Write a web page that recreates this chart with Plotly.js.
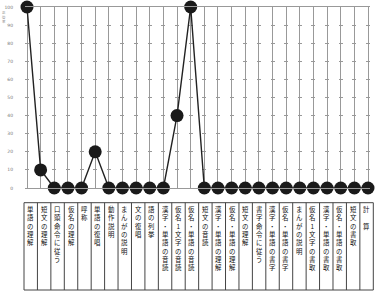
<!DOCTYPE html>
<html>
<head>
<meta charset="utf-8">
<script src="https://cdn.plot.ly/plotly-3.0.1.min.js"></script>
<style>html,body{margin:0;padding:0;background:#fff;}#chart{width:378px;height:304px;}</style>
</head>
<body>
<div id="chart"></div>
<script>
const categories = [
  "単語の理解", "短文の理解", "口頭命令に従う", "仮名の理解", "呼称",
  "単語の復唱", "動作説明", "まんがの説明", "文の復唱", "語の列挙",
  "漢字・単語の音読", "仮名1文字の音読", "仮名・単語の音読", "短文の音読",
  "漢字・単語の理解", "仮名・単語の理解", "短文の理解", "書字命令に従う",
  "漢字・単語の書字", "仮名・単語の書字", "まんがの説明", "仮名1文字の書取",
  "漢字・単語の書取", "仮名・単語の書取", "短文の書取", "計 算"
];
const values = [100, 10, 0, 0, 0, 20, 0, 0, 0, 0, 0, 40, 100, 0, 0, 0, 0, 0, 0, 0, 0, 0, 0, 0, 0, 0];
const yTicks = [0, 10, 20, 30, 40, 50, 60, 70, 80, 90, 100];
const yTitle = "正答率";

const W = 378, H = 304;
const mL = 25, mR = 8, mT = 7, mB = 116;
const plotW = W - mL - mR, plotH = H - mT - mB;
const n = categories.length;
const edgePx = 2;
const spacing = (plotW - 2 * edgePx) / (n - 1);
const pad = edgePx / spacing;
const idx = categories.map((_, i) => i);

// table geometry (pixels -> paper)
const tblLeft = 24, tblRight = 373.3, tblTop = 202.7, tblBottom = 290;
const cellW = (tblRight - tblLeft) / n;
const px2x = px => (px - mL) / plotW;
const py2y = py => (H - mB - py) / plotH;

const shapes = [];
shapes.push({type: 'rect', xref: 'paper', yref: 'paper',
  x0: px2x(tblLeft), x1: px2x(tblRight), y0: py2y(tblBottom), y1: py2y(tblTop),
  line: {color: '#444', width: 1}});
for (let k = 1; k < n; k++) {
  const xp = px2x(tblLeft + k * cellW);
  shapes.push({type: 'line', xref: 'paper', yref: 'paper',
    x0: xp, x1: xp, y0: py2y(tblBottom), y1: py2y(tblTop),
    line: {color: '#444', width: 1}});
}

const annotations = categories.map((c, k) => ({
  xref: 'paper', yref: 'paper',
  x: px2x(tblLeft + (k + 0.5) * cellW), y: py2y(tblTop + 1.5),
  xanchor: 'center', yanchor: 'top', showarrow: false, borderpad: 0,
  align: 'center',
  text: Array.from(c).map(ch => ch === ' ' ? '\u3000' : ch).join('<br>'),
  font: {family: 'Noto Sans CJK JP', size: 6.4, color: '#111'}
}));
annotations.push({
  xref: 'paper', yref: 'paper', x: px2x(1), y: py2y(9),
  xanchor: 'left', yanchor: 'top', showarrow: false, borderpad: 0,
  text: Array.from(yTitle).join('<br>'),
  font: {family: 'Noto Sans CJK JP', size: 3.5, color: '#888'}
});

const trace = {
  x: idx, y: values, type: 'scatter', mode: 'lines+markers',
  line: {color: '#222', width: 1.4},
  marker: {color: '#1a1a1a', size: 13},
  cliponaxis: false, hoverinfo: 'skip'
};

const layout = {
  width: W, height: H,
  margin: {l: mL, r: mR, t: mT, b: mB, pad: 0},
  paper_bgcolor: '#fff', plot_bgcolor: '#fff',
  showlegend: false,
  xaxis: {
    range: [-pad, n - 1 + pad], tickvals: idx, showticklabels: false,
    showgrid: true, gridcolor: '#999', gridwidth: 1,
    showline: true, mirror: true, linecolor: '#999', linewidth: 1,
    zeroline: false, ticks: '', fixedrange: true
  },
  yaxis: {
    range: [0, 100], tickvals: yTicks, ticktext: yTicks.map(String),
    showgrid: true, gridcolor: '#999', gridwidth: 1,
    griddash: (2 * edgePx) + 'px,' + (spacing - 2 * edgePx).toFixed(3) + 'px',
    zeroline: false, showline: false,
    ticks: 'outside', ticklen: 10, tickcolor: 'rgba(0,0,0,0)',
    tickfont: {family: 'DejaVu Sans', size: 4.5, color: '#777'},
    fixedrange: true
  },
  shapes: shapes,
  annotations: annotations
};

Plotly.newPlot('chart', [trace], layout, {staticPlot: true, displayModeBar: false});
</script>
</body>
</html>
